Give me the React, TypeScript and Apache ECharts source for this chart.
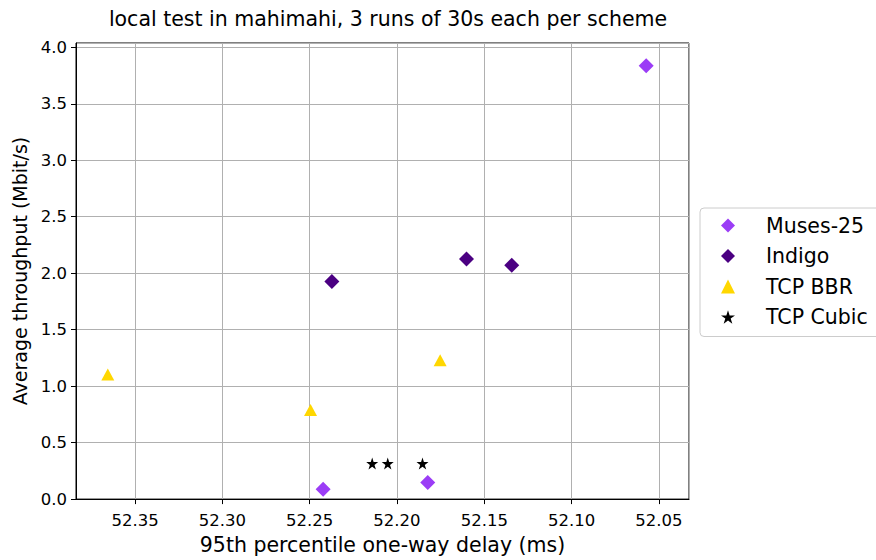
import React, { useEffect, useRef } from "react";
import * as echarts from "echarts";

const titleText = "local test in mahimahi, 3 runs of 30s each per scheme";
const xName = "95th percentile one-way delay (ms)";
const yName = "Average throughput (Mbit/s)";

const seriesNames = ["Muses-25", "Indigo", "TCP BBR", "TCP Cubic"];

const musesX = [52.0573, 52.2423, 52.1824];
const musesY = [3.837, 0.088, 0.147];
const indigoX = [52.2373, 52.1602, 52.1343];
const indigoY = [1.926, 2.126, 2.07];
const bbrX = [52.3656, 52.2495, 52.1753];
const bbrY = [1.104, 0.789, 1.23];
const cubicX = [52.2142, 52.2053, 52.1854];
const cubicY = [0.315, 0.315, 0.315];

const colors = ["#9b3df6", "#4b0082", "#ffd700", "#000000"];

const STAR =
  "path://M50,0 L61.2,34.5 L97.6,34.5 L68.2,55.9 L79.4,90.5 L50,69.1 L20.6,90.5 L31.8,55.9 L2.4,34.5 L38.8,34.5 Z";

const zip = (xs: number[], ys: number[]) => xs.map((x, i) => [x, ys[i]]);

export default function App() {
  const ref = useRef<HTMLDivElement>(null);
  useEffect(() => {
    if (!ref.current) return;
    const chart = echarts.init(ref.current, null, { renderer: "svg" });
    const font = "DejaVu Sans";
    const symbols = ["diamond", "diamond", "triangle", STAR];
    const sizes: any[] = [15, 15, [13, 12], 12];
    const datas = [
      zip(musesX, musesY),
      zip(indigoX, indigoY),
      zip(bbrX, bbrY),
      zip(cubicX, cubicY),
    ];
    chart.setOption({
      animation: false,
      backgroundColor: "#ffffff",
      title: {
        text: titleText,
        left: 383,
        textAlign: "center",
        top: 3,
        textStyle: {
          fontFamily: font,
          fontSize: 20.5,
          fontWeight: "normal",
          color: "#000",
        },
      },
      grid: {
        left: 76,
        right: 187,
        top: 43,
        bottom: 60,
        show: true,
        borderColor: "#000",
        borderWidth: 1,
        backgroundColor: "transparent",
      },
      legend: {
        orient: "vertical",
        left: 700,
        top: 208,
        padding: [6, 14, 8, 21],
        itemWidth: 14,
        itemHeight: 14,
        itemGap: 7.5,
        borderColor: "#cccccc",
        borderWidth: 1,
        borderRadius: 4,
        backgroundColor: "#fff",
        data: seriesNames.map((n, i) => ({ name: n, icon: symbols[i] })),
        textStyle: {
          fontFamily: font,
          fontSize: 20.5,
          lineHeight: 23,
          color: "#000",
          padding: [0, 0, 0, 26],
        },
      },
      xAxis: {
        type: "value",
        inverse: true,
        min: 52.0328,
        max: 52.3838,
        minInterval: 0.05,
        maxInterval: 0.05,
        splitNumber: 7,
        name: xName,
        nameLocation: "middle",
        nameGap: 34,
        nameTextStyle: { fontFamily: font, fontSize: 20.5, color: "#000" },
        axisLine: { show: true, lineStyle: { color: "#000", width: 1 } },
        axisTick: { show: true, inside: false, length: 5, lineStyle: { color: "#000" } },
        axisLabel: {
          show: true,
          margin: 13,
          fontFamily: font,
          fontSize: 16.5,
          color: "#000",
          showMinLabel: false,
          showMaxLabel: false,
          formatter: (v: number) => v.toFixed(2),
        },
        splitLine: { show: true, lineStyle: { color: "#b0b0b0", width: 1 } },
      },
      yAxis: {
        type: "value",
        min: 0,
        max: 4.038,
        interval: 0.5,
        name: yName,
        nameLocation: "middle",
        nameGap: 45,
        nameTextStyle: { fontFamily: font, fontSize: 19, color: "#000" },
        axisLine: { show: true, lineStyle: { color: "#000", width: 1 } },
        axisTick: { show: true, inside: false, length: 5, lineStyle: { color: "#000" } },
        axisLabel: {
          show: true,
          margin: 9,
          fontFamily: font,
          fontSize: 16.5,
          color: "#000",
          showMaxLabel: false,
          formatter: (v: number) => v.toFixed(1),
        },
        splitLine: { show: true, lineStyle: { color: "#b0b0b0", width: 1 } },
      },
      series: seriesNames.map((n, i) => ({
        name: n,
        type: "scatter",
        symbol: symbols[i],
        symbolSize: sizes[i],
        itemStyle: { color: colors[i], opacity: 1 },
        data: datas[i],
        z: 3,
      })),
    });
    return () => chart.dispose();
  }, []);
  return (
    <div
      ref={ref}
      style={{ position: "fixed", left: 0, top: 0, width: 876, height: 560 }}
    />
  );
}
